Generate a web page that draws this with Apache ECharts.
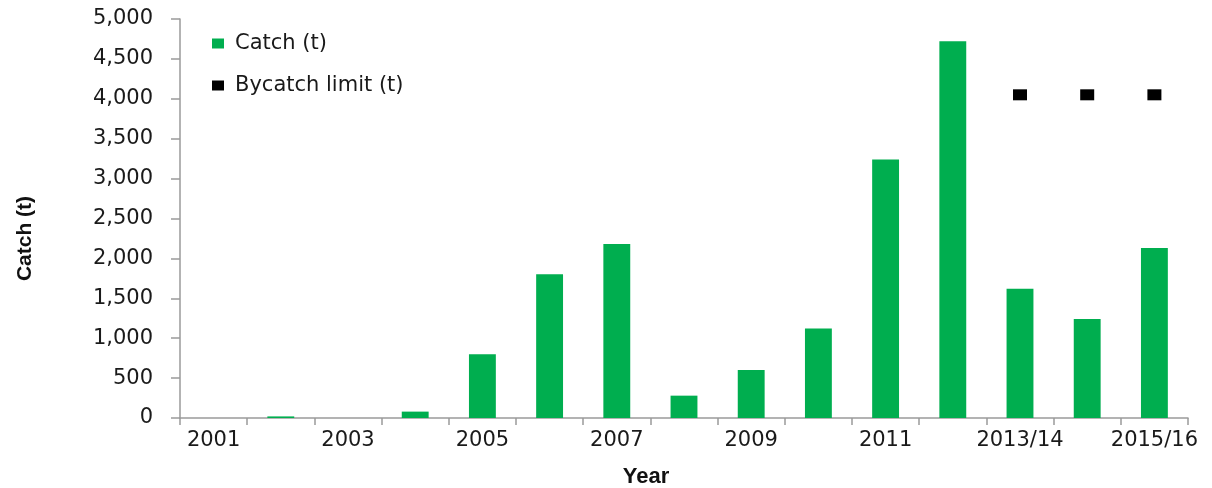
<!DOCTYPE html>
<html>
<head>
<meta charset="utf-8">
<script src="https://cdn.jsdelivr.net/npm/echarts@6/dist/echarts.min.js"></script>
<style>
html,body{margin:0;padding:0;background:#fff;}
#chart{width:1212px;height:488px;}
</style>
</head>
<body>
<div id="chart"></div>
<script>
const categories = ['2001','2002','2003','2004','2005','2006','2007','2008','2009','2010','2011','2012','2013/14','2014/15','2015/16'];
const catchValues = [0, 20, 0, 80, 800, 1800, 2180, 280, 600, 1120, 3240, 4720, 1620, 1240, 2130];
const bycatchLimit = [null, null, null, null, null, null, null, null, null, null, null, null, 4050, 4050, 4050];
const yTicks = [0, 500, 1000, 1500, 2000, 2500, 3000, 3500, 4000, 4500, 5000];

const chart = echarts.init(document.getElementById('chart'));
const axisGray = '#9a9a9a';
const tickFont = {fontFamily: 'DejaVu Sans', fontSize: 21, color: '#1a1a1a'};
chart.setOption({
  animation: false,
  backgroundColor: '#fff',
  grid: {left: 180, right: 24, top: 19, bottom: 70, containLabel: false, outerBoundsMode: 'none'},
  legend: {
    orient: 'vertical', left: 207, top: 28, itemWidth: 12, itemHeight: 10, itemGap: 21,
    icon: 'rect',
    textStyle: {fontFamily: 'DejaVu Sans', fontSize: 21, color: '#1a1a1a', padding: [0,0,0,6]},
    data: ['Catch (t)', 'Bycatch limit (t)']
  },
  xAxis: {
    type: 'category', data: categories, boundaryGap: true,
    name: 'Year', nameLocation: 'middle', nameGap: 48,
    nameTextStyle: {fontFamily: 'Liberation Sans', fontWeight: 'bold', fontSize: 22, color: '#111', padding: [0, 76, 0, 0]},
    axisLine: {lineStyle: {color: axisGray, width: 1.5}},
    axisTick: {show: true, interval: 0, length: 7, lineStyle: {color: axisGray, width: 1.5}},
    axisLabel: Object.assign({interval: 1, margin: 12}, tickFont),
    splitLine: {show: false}
  },
  yAxis: {
    type: 'value', min: yTicks[0], max: yTicks[yTicks.length-1], interval: 500,
    name: 'Catch (t)', nameLocation: 'middle', nameGap: 144,
    nameTextStyle: {fontFamily: 'Liberation Sans', fontWeight: 'bold', fontSize: 21, color: '#111', padding: [0, 40, 0, 0]},
    axisLine: {show: true, lineStyle: {color: axisGray, width: 1.5}},
    axisTick: {show: true, length: 9, lineStyle: {color: axisGray, width: 1.5}},
    axisLabel: Object.assign({margin: 27, formatter: v => v.toLocaleString('en-US')}, tickFont),
    splitLine: {show: false}
  },
  series: [
    {
      name: 'Catch (t)', type: 'bar', data: catchValues, barWidth: '40%',
      itemStyle: {color: '#00AE4F'}
    },
    {
      name: 'Bycatch limit (t)', type: 'scatter', data: bycatchLimit,
      symbol: 'rect', symbolSize: [14, 11],
      itemStyle: {color: '#000', opacity: 1}
    }
  ]
});
</script>
</body>
</html>
